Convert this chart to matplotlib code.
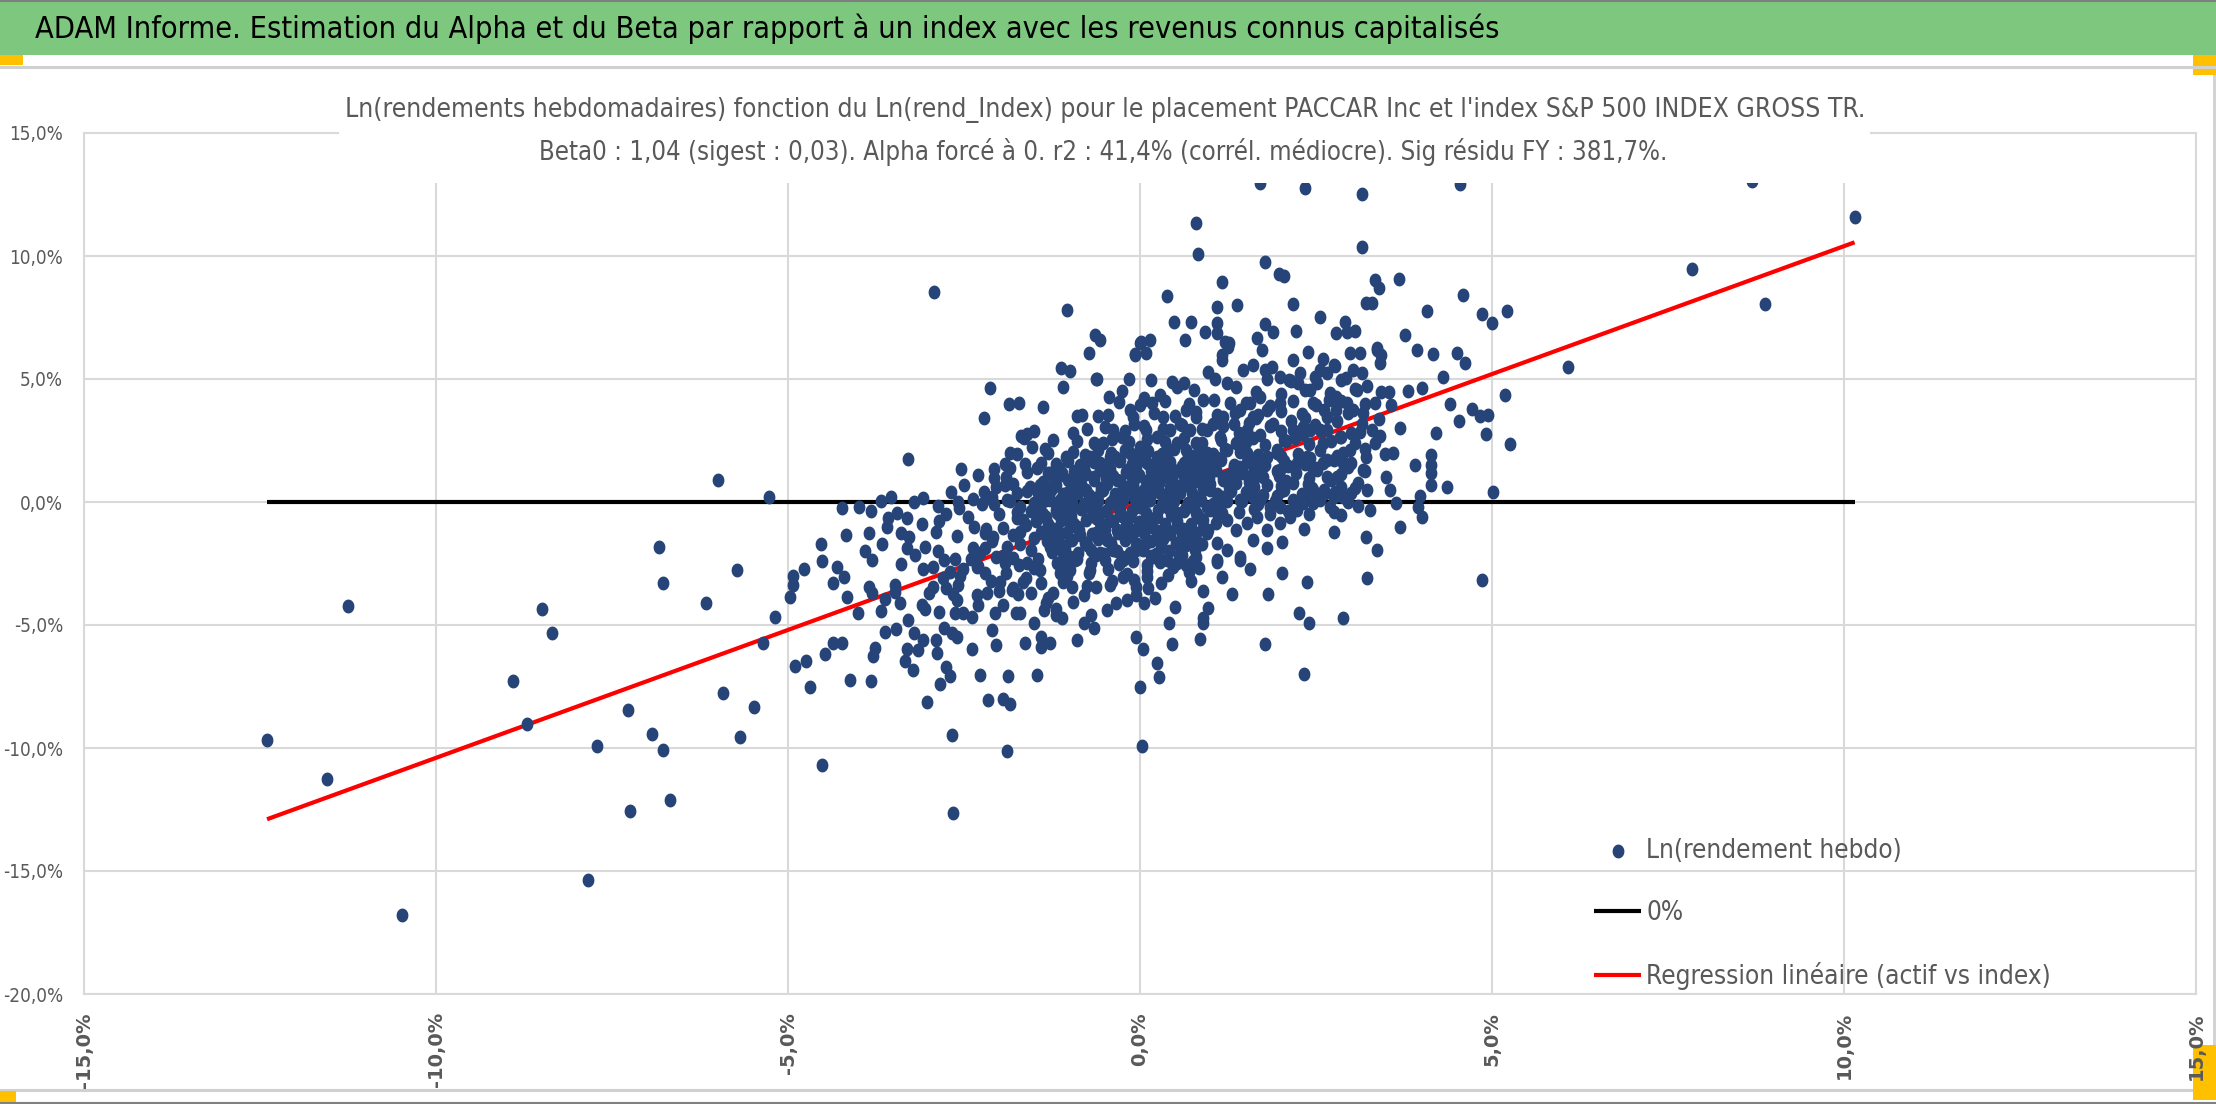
import numpy as np
import matplotlib.pyplot as plt
from matplotlib import font_manager as fm
from matplotlib.path import Path
from matplotlib.patches import Rectangle
from matplotlib.lines import Line2D

# ---- texts ----
titre = "ADAM Informe. Estimation du Alpha et du Beta par rapport à un index avec les revenus connus capitalisés"
sous_titre1 = "Ln(rendements hebdomadaires) fonction du Ln(rend_Index) pour le placement PACCAR Inc et l'index S&P 500 INDEX GROSS TR."
sous_titre2 = "Beta0 : 1,04 (sigest : 0,03). Alpha forcé à 0. r2 : 41,4% (corrél. médiocre). Sig résidu FY : 381,7%."
lbl_pts = "Ln(rendement hebdo)"
lbl_zero = "0%"
lbl_reg = "Regression linéaire (actif vs index)"
beta0 = 1.04

x_ticks = [-15, -10, -5, 0, 5, 10, 15]
y_ticks = [-20, -15, -10, -5, 0, 5, 10, 15]

# ---- data: (Ln rend index %, Ln rend actif %) ----
pts_left_tail = [
    (-12.40, -9.67), (-11.55, -11.26), (-11.25, -4.23), (-10.48, -16.79), (-8.91, -7.28),
    (-8.71, -9.02), (-8.49, -4.35), (-8.35, -5.33), (-7.84, -15.37), (-7.71, -9.92),
    (-7.27, -8.46), (-7.24, -12.56), (-6.93, -9.43), (-6.83, -1.83), (-6.78, -3.29),
    (-6.78, -10.08), (-6.68, -12.10), (-6.17, -4.12), (-5.99, 0.89), (-5.92, -7.78),
    (-5.72, -2.77), (-5.68, -9.55), (-5.49, -8.32), (-5.36, -5.75), (-5.27, 0.22),
    (-5.19, -4.69), (-4.52, -10.69), (-2.66, -12.64), (-2.67, -9.47), (-1.89, -10.12),
    (0.03, -9.92),
]
pts_low_left = [
    (-4.97, -3.85), (-4.93, -3.01), (-4.93, -3.37), (-4.90, -6.67), (-4.77, -2.74),
    (-4.75, -6.45), (-4.69, -7.51), (-4.53, -1.71), (-4.51, -2.40), (-4.48, -6.18),
    (-4.36, -3.28), (-4.36, -5.75), (-4.31, -2.63), (-4.24, -0.26), (-4.24, -5.75),
    (-4.21, -3.04), (-4.18, -1.34), (-4.16, -3.85), (-4.12, -7.24), (-3.99, -0.22),
    (-3.85, -1.27), (-3.85, -3.47), (-3.82, -0.35), (-3.82, -7.28), (-3.80, -2.36),
    (-3.80, -3.71), (-3.79, -6.26), (-3.76, -5.95), (-3.68, 0.05), (-3.68, -4.42),
    (-3.67, -1.72), (-3.62, -3.96), (-3.62, -5.30), (-3.58, -0.66), (-3.54, 0.22),
    (-3.48, -3.37), (-3.48, -3.65), (-3.46, -5.16), (-3.45, -0.46), (-3.41, -4.12),
    (-3.40, -1.25), (-3.34, -6.45), (-3.31, -0.66), (-3.31, -1.88), (-3.31, -5.99),
    (-3.30, 1.73), (-3.28, -1.44), (-3.22, -6.83), (-3.21, -0.01), (-3.21, -5.31),
    (-3.20, -2.15), (-3.15, -6.02), (-3.10, -4.19), (-3.08, 0.15), (-3.08, -2.74),
    (-3.08, -5.61), (-3.06, -1.82), (-3.05, -4.36), (-3.03, -8.15), (-2.94, -2.63),
    (-2.94, -3.44), (-2.89, -6.13), (-2.87, -0.16), (-2.87, -1.98), (-2.86, -0.77),
    (-2.86, -4.46), (-2.84, -7.40), (-2.79, -2.36), (-2.79, -5.14), (-2.75, -3.51),
    (-2.75, -6.72), (-2.70, -2.83), (-2.70, -7.07), (-2.68, 0.42), (-2.67, -5.34),
    (-2.65, -3.75), (-2.63, -2.33), (-2.63, -4.53), (-2.60, -5.50), (-2.58, 0.01),
    (-2.58, -3.37), (-2.57, -0.26), (-2.54, 1.33), (-2.51, -2.74), (-2.51, -4.53),
    (-2.39, -4.66), (-2.38, -5.99), (-2.37, 0.11), (-2.37, -1.88), (-2.36, -1.00),
    (-2.32, -2.63), (-2.32, -3.78), (-2.27, -2.09), (-2.27, -7.03), (-2.22, 0.42),
    (-2.22, 3.40), (-2.20, -1.88), (-2.19, -1.11), (-2.18, -3.69), (-2.16, -8.05),
    (-2.15, 0.15), (-2.13, 4.62), (-2.11, -3.21), (-2.09, -1.44), (-2.08, 0.96),
    (-2.08, 1.33), (-2.07, -0.10), (-2.06, -4.53), (-2.04, -2.22), (-2.04, -5.81),
    (-1.99, -3.24), (-1.95, -8.01), (-1.94, -4.19), (-1.92, 0.69), (-1.92, 1.53),
    (-1.92, -2.49), (-1.89, 0.08), (-1.89, -1.82), (-1.87, -7.07), (-1.86, 3.98),
    (-1.85, 2.00), (-1.84, -8.23), (-1.82, -3.58), (-1.80, -2.29), (-1.76, -4.53),
    (-1.75, 0.38), (-1.75, 1.95), (-1.75, -0.39), (-1.73, -3.75), (-1.72, 4.01),
    (-1.70, -1.21), (-1.69, 2.68), (-1.66, -0.73), (-1.66, -3.24), (-1.63, 1.53),
    (-1.63, -5.72), (-1.61, -2.49), (-1.60, 2.76), (-1.56, 0.62), (-1.54, 2.25),
    (-1.51, -1.48), (-1.46, 1.37), (-1.46, -7.03), (-1.44, -0.53), (-1.42, 0.69),
    (-1.42, -2.76), (-1.40, -5.47), (-1.40, -5.88), (-1.38, 3.85), (-1.37, -4.39),
    (-1.35, 2.15), (-1.33, -4.12), (-1.33, -0.60), (-1.28, 1.17), (-1.28, 0.08),
    (-1.28, -1.82), (-1.28, -5.72), (-1.25, -1.14), (-1.23, 2.52), (-1.23, 0.62),
    (-1.23, -3.71), (-1.19, -4.36), (-1.18, -0.46), (-1.18, -2.49), (-1.14, -2.87),
    (-1.14, 0.08), (-1.14, -1.27), (-1.12, 5.43), (-1.11, 1.17), (-1.11, -4.73),
    (-1.10, 4.66), (-1.09, -2.09), (-1.04, 7.80), (-1.04, -3.01), (-1.04, 0.35),
    (-1.04, -0.73), (-1.00, -1.54), (-0.99, 5.33), (-0.97, -3.44), (-0.95, 2.79),
    (-0.95, -4.05), (-0.95, -0.19), (-0.95, 0.89), (-0.92, -2.36), (-0.90, -1.00),
    (-0.89, 3.50), (-0.88, 0.35),
    (-2.05, 0.60), (-1.80, 0.75), (-1.60, 0.45), (-2.10, 0.20), (-1.85, 0.05),
    (-1.70, -0.20), (-2.00, -0.50), (-1.75, -0.65), (-1.62, -0.95), (-1.95, -1.05),
    (-1.80, -1.35), (-2.10, -1.60), (-1.70, -1.70), (-1.55, -1.95), (-1.95, -2.20),
    (-1.72, -2.55), (-1.50, -2.70), (-1.90, -2.90), (-1.62, -3.10), (-1.40, -3.30),
    (-1.80, -3.50), (-1.55, -3.70), (-1.30, -3.90), (-2.20, -1.25), (-2.25, -0.10),
    (-2.30, -2.60), (-1.45, -2.30), (-1.40, 1.60), (-1.60, 1.20), (-1.85, 1.40),
    (-2.45, -0.60), (-2.60, -1.40), (-2.75, -0.50), (-2.90, -1.20), (-3.10, -0.90),
    (-2.40, -2.30), (-2.55, -3.00), (-2.80, -3.10), (-2.20, -2.90), (-2.00, -3.60),
    (-2.30, -4.20), (-2.60, -4.00), (-3.00, -3.70), (-1.70, -4.50), (-1.50, -4.90),
    (-2.10, -5.20), (-1.90, 1.00), (-2.30, 1.10), (-2.50, 0.70), (-1.65, 2.60),
    (-1.30, 2.00), (-1.50, 2.90), (-3.40, -2.50), (-3.60, -1.00), (-3.90, -2.00),
    (-4.00, -4.50), (-3.30, -4.80), (-2.90, -5.60), (-1.20, -4.60), (-0.90, -5.60),
]
pts_upper = [
    (-2.92, 8.55), (-0.73, 6.04), (-0.64, 6.79), (-0.62, 4.99), (-0.61, 4.99),
    (-0.57, 6.59), (-0.44, 4.28), (-0.25, 4.51), (-0.15, 5.00), (-0.07, 5.97),
    (-0.07, 6.02), (0.00, 6.48), (0.02, 6.49), (0.06, 4.21), (0.09, 6.04),
    (0.14, 6.59), (0.16, 4.96), (0.39, 8.37), (0.49, 7.33), (0.64, 6.59),
    (0.73, 7.33), (0.80, 11.35), (0.83, 10.08), (0.93, 6.90), (1.10, 7.94),
    (1.10, 7.29), (1.10, 6.88), (1.17, 8.96), (1.17, 5.77), (1.21, 6.52),
    (1.25, 6.31), (1.26, 6.45), (1.38, 8.01), (1.66, 6.65), (1.70, 12.98),
    (1.78, 9.77), (1.78, 7.22), (1.89, 6.90), (1.97, 9.27), (2.05, 9.19),
    (2.18, 8.04), (2.18, 5.77), (2.22, 6.96), (2.35, 12.75), (2.38, 6.11),
    (2.55, 7.53), (2.60, 5.80), (2.76, 5.57), (2.77, 5.53), (2.79, 6.86),
    (2.91, 7.33), (2.94, 6.92), (2.98, 6.04), (3.05, 6.95), (3.13, 6.04),
    (3.15, 12.52), (3.16, 10.35), (3.21, 8.10), (3.30, 8.10), (3.34, 9.02),
    (3.36, 6.25), (3.36, 6.18), (3.40, 8.69), (3.41, 5.64), (3.42, 5.98),
    (3.68, 9.05), (3.76, 6.79), (3.94, 6.18), (4.07, 7.76), (4.16, 6.02),
    (4.50, 6.07), (4.55, 12.93), (4.59, 8.41), (4.62, 5.66), (4.86, 7.63),
    (5.00, 7.29), (5.22, 7.76),
]
pts_core = [
    (-0.83, 3.54), (-0.59, 3.50), (-0.38, 2.93), (-0.26, 2.66), (-0.52, 2.39),
    (-0.14, 3.74), (-0.09, 3.19), (0.05, 4.15), (0.17, 4.01), (0.28, 4.35),
    (0.45, 4.89), (0.52, 4.69), (0.62, 4.82), (0.76, 4.55), (0.90, 4.15),
    (0.97, 5.30), (1.07, 4.99), (1.16, 5.98), (1.23, 4.82), (1.37, 4.69),
    (1.47, 5.37), (1.61, 5.57), (1.73, 6.18), (1.78, 5.37), (1.87, 5.50),
    (1.99, 5.10), (2.11, 4.96), (2.25, 4.82), (2.27, 5.23), (2.42, 4.55),
    (2.51, 4.82), (2.56, 5.37), (2.65, 5.23), (2.68, 4.15), (2.79, 4.28),
    (2.94, 4.01), (3.03, 3.74), (3.17, 3.60), (2.79, 3.74), (2.65, 3.47),
    (2.46, 4.01), (2.32, 3.06), (2.18, 2.93), (2.42, 2.93), (2.56, 2.93),
    (2.60, 2.38), (2.84, 2.66), (2.98, 2.11), (2.89, 1.57), (2.75, 1.71),
    (2.60, 1.57), (2.65, 1.03), (2.46, 1.30), (2.37, 1.84), (2.23, 1.57),
    (2.18, 0.76), (2.04, 0.49), (1.99, 1.30), (1.94, 1.98), (2.04, 2.52),
    (1.89, 3.19), (1.80, 3.74), (1.99, 4.01), (1.70, 4.28), (1.56, 4.01),
    (1.61, 3.47), (1.52, 2.93), (1.42, 3.74), (1.28, 4.01), (1.18, 3.47),
    (1.33, 3.19), (1.04, 3.19), (1.14, 2.66), (0.95, 2.93), (0.80, 3.47),
    (0.66, 3.74), (0.71, 2.93), (0.57, 3.19), (0.43, 2.93), (0.33, 3.47),
    (0.24, 2.66), (0.09, 2.93), (0.00, 2.25), (-0.14, 1.98), (-0.28, 1.71),
    (-0.43, 1.84), (-0.57, 1.57), (-0.71, 1.84), (-0.80, 1.30), (-0.66, 1.03),
    (-0.47, 1.16), (-0.33, 0.89), (-0.19, 1.30), (-0.05, 1.03), (0.10, 1.57),
    (0.24, 1.84), (0.38, 2.11), (0.52, 2.39), (0.66, 2.11), (0.80, 2.39),
    (0.95, 1.98), (1.09, 1.71), (1.23, 2.11), (1.37, 2.39), (1.52, 1.98),
    (1.66, 1.57), (1.80, 1.84), (1.75, 1.03), (1.61, 0.76), (1.47, 1.16),
    (1.33, 1.44), (1.18, 1.03), (1.04, 1.30), (0.90, 1.57), (0.76, 1.30),
    (0.62, 1.57), (0.47, 1.30), (0.33, 1.03), (0.19, 0.76), (0.05, 0.49),
    (-0.09, 0.22), (-0.24, 0.49), (-0.38, 0.08), (-0.52, 0.49), (-0.66, 0.08),
    (-0.80, -0.19), (-0.76, 0.49), (-0.57, -0.46), (-0.43, -0.73), (-0.28, -0.33),
    (-0.14, -0.60), (0.00, -0.19), (0.14, 0.08), (0.28, 0.35), (0.43, 0.62),
    (0.57, 0.35), (0.71, 0.62), (0.85, 0.89), (0.99, 0.49), (1.14, 0.22),
    (1.28, 0.49), (1.42, 0.08), (1.56, 0.35), (1.70, 0.08), (1.85, -0.19),
    (1.66, -0.60), (1.52, -0.87), (1.37, -1.14), (1.23, -0.73), (1.09, -0.46),
    (0.95, -0.19), (0.80, -0.46), (0.66, -0.19), (0.52, -0.46), (0.38, -0.19),
    (0.24, -0.60), (0.09, -0.87), (-0.05, -1.14), (-0.19, -1.41), (-0.33, -1.14),
    (-0.47, -1.54), (-0.62, -1.27), (-0.76, -1.68), (-0.57, -2.09), (-0.38, -1.95),
    (-0.24, -2.36), (-0.05, -1.95), (0.09, -1.68), (0.24, -1.41), (0.38, -1.14),
    (0.52, -1.00), (0.66, -1.27), (0.80, -1.54), (0.95, -1.27), (1.09, -1.68),
    (1.23, -1.95), (0.80, -2.22), (0.57, -2.09), (0.38, -2.36), (0.19, -2.22),
    (1.61, -1.54), (1.80, -1.14), (1.99, -0.87), (2.13, -0.60), (1.99, -0.19),
    (2.18, 0.08), (2.32, -0.05), (2.46, 0.49), (2.46, -0.05), (2.53, 0.15),
    (2.63, 0.38), (2.70, -0.19), (2.77, 0.42), (2.86, -0.53), (2.88, 0.22),
    (3.05, 0.55), (3.10, -0.16), (2.23, -0.33), (2.01, -1.61), (1.80, -1.88),
    (1.42, -2.22), (1.09, -2.36), (2.33, -1.11), (2.75, -1.23), (3.21, -1.44),
    (3.36, -1.95), (3.27, -0.33), (3.22, 0.49), (3.17, 1.30), (3.21, 1.82),
    (3.48, 1.95), (3.34, 2.38), (3.41, 2.69), (3.29, 2.93), (3.12, 2.86),
    (3.40, 3.36), (3.57, 3.93), (3.34, 4.04), (3.43, 4.49), (3.53, 4.49),
    (3.08, 4.55), (3.23, 4.72), (2.93, 5.03), (3.02, 5.37), (3.15, 5.23),
]
# the solid centre of the cloud, where single dots can no longer be told apart
pts_blob = [
    (-0.95, 2.05), (-0.78, 1.92), (-0.60, 2.10), (-0.41, 1.98), (-0.22, 2.12), (-0.05, 1.90),
    (0.12, 2.06), (0.31, 1.95), (0.49, 2.15), (0.68, 1.88), (0.86, 2.08), (1.03, 1.96), (1.21, 2.14),
    (-1.20, 1.55), (-1.02, 1.68), (-0.85, 1.50), (-0.66, 1.62), (-0.48, 1.48), (-0.30, 1.66),
    (-0.12, 1.54), (0.06, 1.70), (0.24, 1.52), (0.42, 1.64), (0.60, 1.47), (0.79, 1.69),
    (0.97, 1.56), (1.15, 1.72), (1.33, 1.50),
    (-1.30, 1.18), (-1.12, 1.08), (-0.94, 1.26), (-0.76, 1.12), (-0.57, 1.30), (-0.39, 1.05),
    (-0.20, 1.22), (-0.02, 1.10), (0.16, 1.28), (0.35, 1.14), (0.53, 1.24), (0.71, 1.06),
    (0.90, 1.20), (1.08, 1.32), (1.26, 1.10),
    (-1.38, 0.82), (-1.20, 0.70), (-1.02, 0.88), (-0.84, 0.74), (-0.66, 0.90), (-0.47, 0.72),
    (-0.29, 0.86), (-0.10, 0.68), (0.08, 0.84), (0.27, 0.78), (0.45, 0.92), (0.63, 0.70),
    (0.81, 0.86), (1.00, 0.74), (1.18, 0.90), (1.36, 0.76),
    (-1.45, 0.36), (-1.27, 0.48), (-1.09, 0.32), (-0.91, 0.46), (-0.73, 0.30), (-0.55, 0.44),
    (-0.36, 0.34), (-0.18, 0.50), (0.00, 0.38), (0.19, 0.46), (0.37, 0.30), (0.55, 0.48),
    (0.74, 0.36), (0.92, 0.52), (1.10, 0.34), (1.29, 0.46),
    (-1.50, -0.05), (-1.33, 0.08), (-1.15, -0.08), (-0.97, 0.06), (-0.79, -0.10), (-0.60, 0.04),
    (-0.42, -0.06), (-0.24, 0.10), (-0.06, -0.04), (0.13, 0.07), (0.31, -0.09), (0.49, 0.05),
    (0.68, -0.03), (0.86, 0.09), (1.04, -0.07), (1.23, 0.03),
    (-1.55, -0.36), (-1.38, -0.48), (-1.20, -0.32), (-1.02, -0.46), (-0.84, -0.30), (-0.66, -0.44),
    (-0.48, -0.35), (-0.29, -0.50), (-0.11, -0.38), (0.08, -0.46), (0.26, -0.31), (0.44, -0.47),
    (0.62, -0.36), (0.81, -0.49), (0.99, -0.33), (1.17, -0.45),
    (-1.48, -0.78), (-1.30, -0.90), (-1.12, -0.74), (-0.94, -0.88), (-0.76, -0.72), (-0.57, -0.86),
    (-0.39, -0.76), (-0.20, -0.92), (-0.02, -0.80), (0.17, -0.70), (0.35, -0.88), (0.53, -0.76),
    (0.72, -0.90), (0.90, -0.74), (1.08, -0.86),
    (-1.40, -1.22), (-1.22, -1.10), (-1.04, -1.28), (-0.86, -1.14), (-0.68, -1.30), (-0.50, -1.08),
    (-0.31, -1.24), (-0.13, -1.12), (0.06, -1.28), (0.24, -1.16), (0.42, -1.32), (0.61, -1.10),
    (0.79, -1.26), (0.97, -1.14),
    (-1.32, -1.58), (-1.14, -1.70), (-0.96, -1.54), (-0.78, -1.66), (-0.59, -1.52), (-0.41, -1.68),
    (-0.22, -1.56), (-0.04, -1.72), (0.15, -1.60), (0.33, -1.50), (0.51, -1.66), (0.70, -1.56),
    (0.88, -1.70),
    (-1.25, -2.02), (-1.06, -1.92), (-0.88, -2.08), (-0.70, -1.96), (-0.51, -2.12), (-0.33, -1.98),
    (-0.14, -2.06), (0.04, -1.94), (0.23, -2.10), (0.41, -2.00), (0.60, -2.14), (0.78, -1.96),
    (-1.10, -2.42), (-0.90, -2.30), (-0.70, -2.48), (-0.50, -2.36), (-0.30, -2.52), (-0.10, -2.40),
    (0.10, -2.56), (0.30, -2.34), (0.52, -2.46), (0.75, -2.38),
    (-1.00, -2.78), (-0.72, -2.90), (-0.45, -2.74), (-0.18, -2.92), (0.10, -2.80), (0.40, -2.96),
    (0.70, -2.84), (-1.10, -3.25), (-0.75, -3.40), (-0.40, -3.20), (-0.05, -3.45), (0.30, -3.30),
    (-0.90, 2.50), (-0.65, 2.38), (-0.40, 2.55), (-0.15, 2.42), (0.10, 2.58), (0.35, 2.45),
    (0.62, 2.60), (0.88, 2.40), (1.15, 2.52), (-0.75, 2.95), (-0.50, 3.05), (-0.22, 2.88),
    (0.05, 3.10), (0.32, 2.95), (0.60, 3.12), (0.88, 2.98), (1.18, 3.08), (-0.45, 3.55),
    (-0.10, 3.45), (0.20, 3.62), (0.50, 3.50), (0.80, 3.66), (1.10, 3.52), (-0.30, 4.05),
    (0.00, 3.95), (0.35, 4.10), (0.70, 4.00), (1.05, 4.15),
    (-1.05, 1.82), (-0.70, 1.78), (-0.35, 1.84), (0.00, 1.76), (0.38, 1.80), (0.75, 1.86),
    (1.10, 1.78), (-1.15, 1.38), (-0.80, 1.44), (-0.42, 1.36), (-0.05, 1.42), (0.33, 1.38),
    (0.70, 1.44), (1.05, 1.36), (1.40, 1.42), (-1.22, 0.98), (-0.85, 1.04), (-0.48, 0.96),
    (-0.12, 1.02), (0.25, 0.98), (0.62, 1.04), (0.98, 0.96), (1.32, 1.02), (-1.30, 0.58),
    (-0.93, 0.64), (-0.56, 0.56), (-0.20, 0.62), (0.17, 0.58), (0.54, 0.64), (0.90, 0.56),
    (1.26, 0.62), (-1.38, 0.18), (-1.00, 0.24), (-0.64, 0.16), (-0.28, 0.22), (0.09, 0.18),
    (0.46, 0.24), (0.82, 0.16), (1.18, 0.22), (-1.42, -0.22), (-1.05, -0.16), (-0.70, -0.24),
    (-0.33, -0.18), (0.04, -0.22), (0.40, -0.16), (0.76, -0.24), (1.12, -0.18), (-1.35, -0.62),
    (-0.98, -0.56), (-0.62, -0.64), (-0.25, -0.58), (0.12, -0.62), (0.48, -0.56), (0.85, -0.64),
    (-1.30, -1.02), (-0.93, -0.96), (-0.56, -1.04), (-0.20, -0.98), (0.17, -1.02), (0.53, -0.96),
    (0.90, -1.04), (-1.22, -1.42), (-0.85, -1.36), (-0.48, -1.44), (-0.12, -1.38), (0.25, -1.42),
    (0.60, -1.36), (-1.10, -1.82), (-0.75, -1.76), (-0.40, -1.84), (-0.05, -1.78), (0.30, -1.82),
    (0.65, -1.76), (-1.00, -2.22), (-0.62, -2.16), (-0.25, -2.24), (0.15, -2.18), (0.55, -2.22),
]
pts_blob_right = [
    (1.40, -0.42), (1.62, -0.30), (1.85, -0.48), (2.10, -0.36), (2.40, -0.50), (2.75, -0.40),
    (1.45, 0.04), (1.68, -0.08), (1.92, 0.06), (2.20, -0.04), (2.55, 0.08), (2.95, -0.02),
    (1.50, 0.42), (1.75, 0.30), (2.00, 0.46), (2.30, 0.34), (2.62, 0.48), (3.00, 0.36),
    (1.55, 0.80), (1.80, 0.70), (2.08, 0.86), (2.38, 0.74), (2.72, 0.90), (3.10, 0.78),
    (1.45, 1.22), (1.70, 1.10), (1.95, 1.28), (2.22, 1.16), (2.52, 1.30), (2.85, 1.14),
    (3.20, 1.26), (1.52, 1.62), (1.78, 1.50), (2.05, 1.68), (2.35, 1.56), (2.66, 1.70),
    (3.00, 1.58), (1.42, 2.04), (1.68, 1.92), (1.95, 2.10), (2.25, 1.96), (2.55, 2.12),
    (2.88, 2.00), (3.20, 2.14), (1.50, 2.42), (1.78, 2.30), (2.08, 2.48), (2.40, 2.36),
    (2.72, 2.50), (3.05, 2.38), (1.40, 2.82), (1.70, 2.74), (2.00, 2.90), (2.32, 2.76),
    (2.65, 2.92), (3.00, 2.80), (1.55, 3.22), (1.85, 3.10), (2.15, 3.28), (2.48, 3.14),
    (2.80, 3.30), (3.15, 3.18), (1.35, 3.62), (1.68, 3.52), (2.00, 3.70), (2.30, 3.56),
    (2.62, 3.72), (2.95, 3.60), (1.50, 4.04), (1.85, 3.92), (2.18, 4.10), (2.50, 3.96),
    (2.85, 4.12), (3.20, 4.00), (1.65, 4.48), (2.00, 4.40), (2.35, 4.56), (2.70, 4.44),
    (3.05, 4.60), (1.80, 5.02), (2.15, 4.92), (2.48, 5.08), (2.85, 4.96),
    (1.60, 0.20), (1.95, 0.25), (2.35, 0.15), (2.75, 0.22), (1.62, 0.60), (2.00, 0.65),
    (2.45, 0.58), (2.85, 0.62), (1.58, 1.00), (1.98, 1.05), (2.40, 0.98), (2.80, 1.02),
    (1.62, 1.40), (2.10, 1.45), (2.50, 1.38), (2.95, 1.42), (1.55, 1.82), (2.00, 1.85),
    (2.42, 1.80), (2.80, 1.86), (1.60, 2.62), (2.20, 2.62), (2.85, 2.65), (1.65, 3.40),
    (2.35, 3.40),
]
pts_low_right = [
    (-0.80, -4.93), (-0.80, -3.78), (-0.71, -2.76), (-0.69, -4.59), (-0.66, -5.14),
    (-0.62, -3.44), (-0.47, -4.39), (-0.43, -3.37), (-0.34, -4.12), (-0.24, -3.04),
    (-0.18, -3.98), (-0.09, -3.17), (-0.06, -5.50), (-0.05, -3.78), (0.00, -7.51),
    (0.04, -5.99), (0.05, -4.09), (0.10, -3.04), (0.12, -3.51), (0.21, -3.89),
    (0.24, -6.56), (0.27, -7.13), (0.28, -2.42), (0.41, -4.93), (0.46, -5.77),
    (0.47, -2.63), (0.50, -4.26), (0.66, -2.56), (0.72, -3.20), (0.84, -2.70),
    (0.85, -5.58), (0.90, -3.62), (0.90, -4.73), (0.90, -4.93), (0.96, -4.32),
    (1.09, -2.42), (1.17, -3.06), (1.30, -3.75), (1.42, -2.36), (1.56, -2.74),
    (1.77, -5.77), (1.82, -3.75), (2.02, -2.87), (2.26, -4.50), (2.33, -6.99),
    (2.37, -3.24), (2.40, -4.93), (2.89, -4.70), (3.22, -3.10), (4.86, -3.17),
]
pts_right_tail = [
    (3.63, -0.03), (3.95, -0.19), (3.98, 0.24), (4.00, 4.62), (4.14, 1.91),
    (4.14, 1.50), (4.14, 1.16), (4.14, 0.69), (4.31, 5.10), (4.36, 0.62),
    (4.53, 3.29), (4.71, 3.77), (4.83, 3.50), (4.91, 2.76), (4.95, 3.54),
    (5.01, 0.39), (5.19, 4.35), (5.25, 2.34), (6.08, 5.50), (7.84, 9.47),
    (8.70, 13.05), (8.88, 8.05), (10.15, 11.60),
    (3.60, 2.00), (3.70, 3.00), (3.50, 1.00), (3.80, 4.50), (4.20, 2.80),
    (3.90, 1.50), (3.55, 0.50), (4.40, 4.00), (3.70, -1.00), (4.00, -0.60),
]

pts = np.array(pts_left_tail + pts_low_left + pts_upper + pts_core + pts_blob
               + pts_blob_right + pts_low_right + pts_right_tail)
idx = pts[:, 0]
actif = pts[:, 1]


# ---- fonts: look for a narrow face close to the Calibri of the original ----
def narrow_font(weight='normal'):
    cands = [('Liberation Sans Narrow', 'normal'), ('Noto Sans', 'condensed'),
             ('Noto Sans', 'semi-condensed'), ('DejaVu Sans', 'condensed'),
             ('Open Sans', 'condensed'), ('Roboto', 'condensed')]
    for fam, st in cands:
        try:
            p = fm.findfont(fm.FontProperties(family=fam, stretch=st, weight=weight),
                            fallback_to_default=False)
        except Exception:
            continue
        low = p.lower()
        if 'narrow' in low or 'condensed' in low:
            return p
    return fm.findfont(fm.FontProperties(family='Liberation Sans', weight=weight))


f_reg = narrow_font('normal')

W, H = 2216, 1104
fig = plt.figure(figsize=(W / 100, H / 100), dpi=100)
r = fig.canvas.get_renderer()
gris = '#595959'


def fitted(path, s, width_px, size=20):
    tt = fig.text(0, 0, s, fontproperties=fm.FontProperties(fname=path, size=size))
    w = tt.get_window_extent(r).width
    tt.remove()
    return fm.FontProperties(fname=path, size=size * width_px / w)


def text_height(s, fp):
    tt = fig.text(0, 0, s, fontproperties=fp)
    h = tt.get_window_extent(r).height
    tt.remove()
    return h


ax = fig.add_axes([84 / W, 1 - 994 / H, 2112 / W, 861 / H])
ax.set_xlim(-15, 15)
ax.set_ylim(-20, 15)


def pct(v):
    return f"{v:.1f}%".replace('.', ',')


ax.set_xticks(x_ticks, [pct(v) for v in x_ticks], rotation=90, fontweight='bold',
              fontsize=14, color=gris, family='DejaVu Sans')
ax.set_yticks(y_ticks, [pct(v) for v in y_ticks], color=gris,
              fontproperties=fitted(f_reg, '-20,0%', 60))
ax.tick_params(length=0)
ax.tick_params(axis='x', pad=13)
ax.tick_params(axis='y', pad=15)
ax.grid(True, color='#D9D9D9', lw=1.5)
ax.set_axisbelow(True)
for s in ax.spines.values():
    s.set_color('#D9D9D9')
    s.set_linewidth(1.5)

t = np.linspace(0, 2 * np.pi, 40)
ellipse = Path(np.column_stack([0.85 * np.cos(t), np.sin(t)]), closed=True)

xr = np.array([idx.min(), idx.max()])
l0, = ax.plot(xr, [0, 0], color='black', lw=3, zorder=2, solid_capstyle='butt')
lr, = ax.plot(xr, beta0 * xr, color='#FF0000', lw=3, zorder=2.5, solid_capstyle='butt')
sc = ax.scatter(idx, actif, s=100, marker=ellipse, color='#264478', lw=0, zorder=3)

# legend rows 63 px apart, first row centred at y = 852 px
fp_leg = fitted(f_reg, lbl_reg, 406)
fs_px = fp_leg.get_size_in_points() * 100 / 72
h_row = text_height(lbl_reg, fp_leg)
ax.legend([sc, l0, lr], [lbl_pts, lbl_zero, lbl_reg], loc='upper left',
          bbox_to_anchor=(1594 / W, 1 - (852 - h_row / 2) / H), bbox_transform=fig.transFigure,
          frameon=False, borderpad=0, borderaxespad=0, scatterpoints=1,
          handlelength=47 / fs_px, handletextpad=5 / fs_px,
          labelspacing=(64 - h_row) / fs_px, labelcolor=gris, prop=fp_leg)

# ---- decorations (Excel chart frame) ----
fig.add_artist(Rectangle((0, 1 - 55 / H), 1, 55 / H, transform=fig.transFigure,
                         facecolor='#7DC87E', edgecolor='none', zorder=5))
fig.add_artist(Line2D([0, 1], [1 - 1 / H] * 2, color='#7F7F7F', lw=1.5, zorder=6))
fig.add_artist(Line2D([0, 1], [1 - 66.5 / H] * 2, color='#D0D0D0', lw=2.2, zorder=6))
fig.add_artist(Line2D([0, 1], [1 - 1090 / H] * 2, color='#D0D0D0', lw=2.2, zorder=-1))
fig.add_artist(Line2D([0, 1], [1 - 1103 / H] * 2, color='#808080', lw=1.5, zorder=6))
fig.add_artist(Line2D([2214 / W] * 2, [1 - 66 / H, 1 - 1090 / H], color='#D0D0D0', lw=2, zorder=-1))
for (x0, y0, w, h) in [(0, 55, 23, 10), (2193, 55, 23, 20), (2193, 1045, 23, 55), (0, 1091, 16, 13)]:
    fig.add_artist(Rectangle((x0 / W, 1 - (y0 + h) / H), w / W, h / H, transform=fig.transFigure,
                             facecolor='#FFC000', edgecolor='none', zorder=-1))

# chart title box sits on top of the plot area
fig.add_artist(Rectangle((339 / W, 1 - 183 / H), (1870 - 339) / W, (183 - 88) / H,
                         transform=fig.transFigure, facecolor='white', edgecolor='none', zorder=5))

fig.text(35 / W, 1 - 29 / H, titre, ha='left', va='center', color='black',
         fontproperties=fitted(f_reg, titre, 1460), zorder=8)
fig.text(1105 / W, 1 - 110 / H, sous_titre1, ha='center', va='center', color=gris,
         fontproperties=fitted(f_reg, sous_titre1, 1517), zorder=8)
fig.text(1103 / W, 1 - 152 / H, sous_titre2, ha='center', va='center', color=gris,
         fontproperties=fitted(f_reg, sous_titre2, 1126), zorder=8)

fig.savefig('out.png', dpi=100, facecolor='white')
